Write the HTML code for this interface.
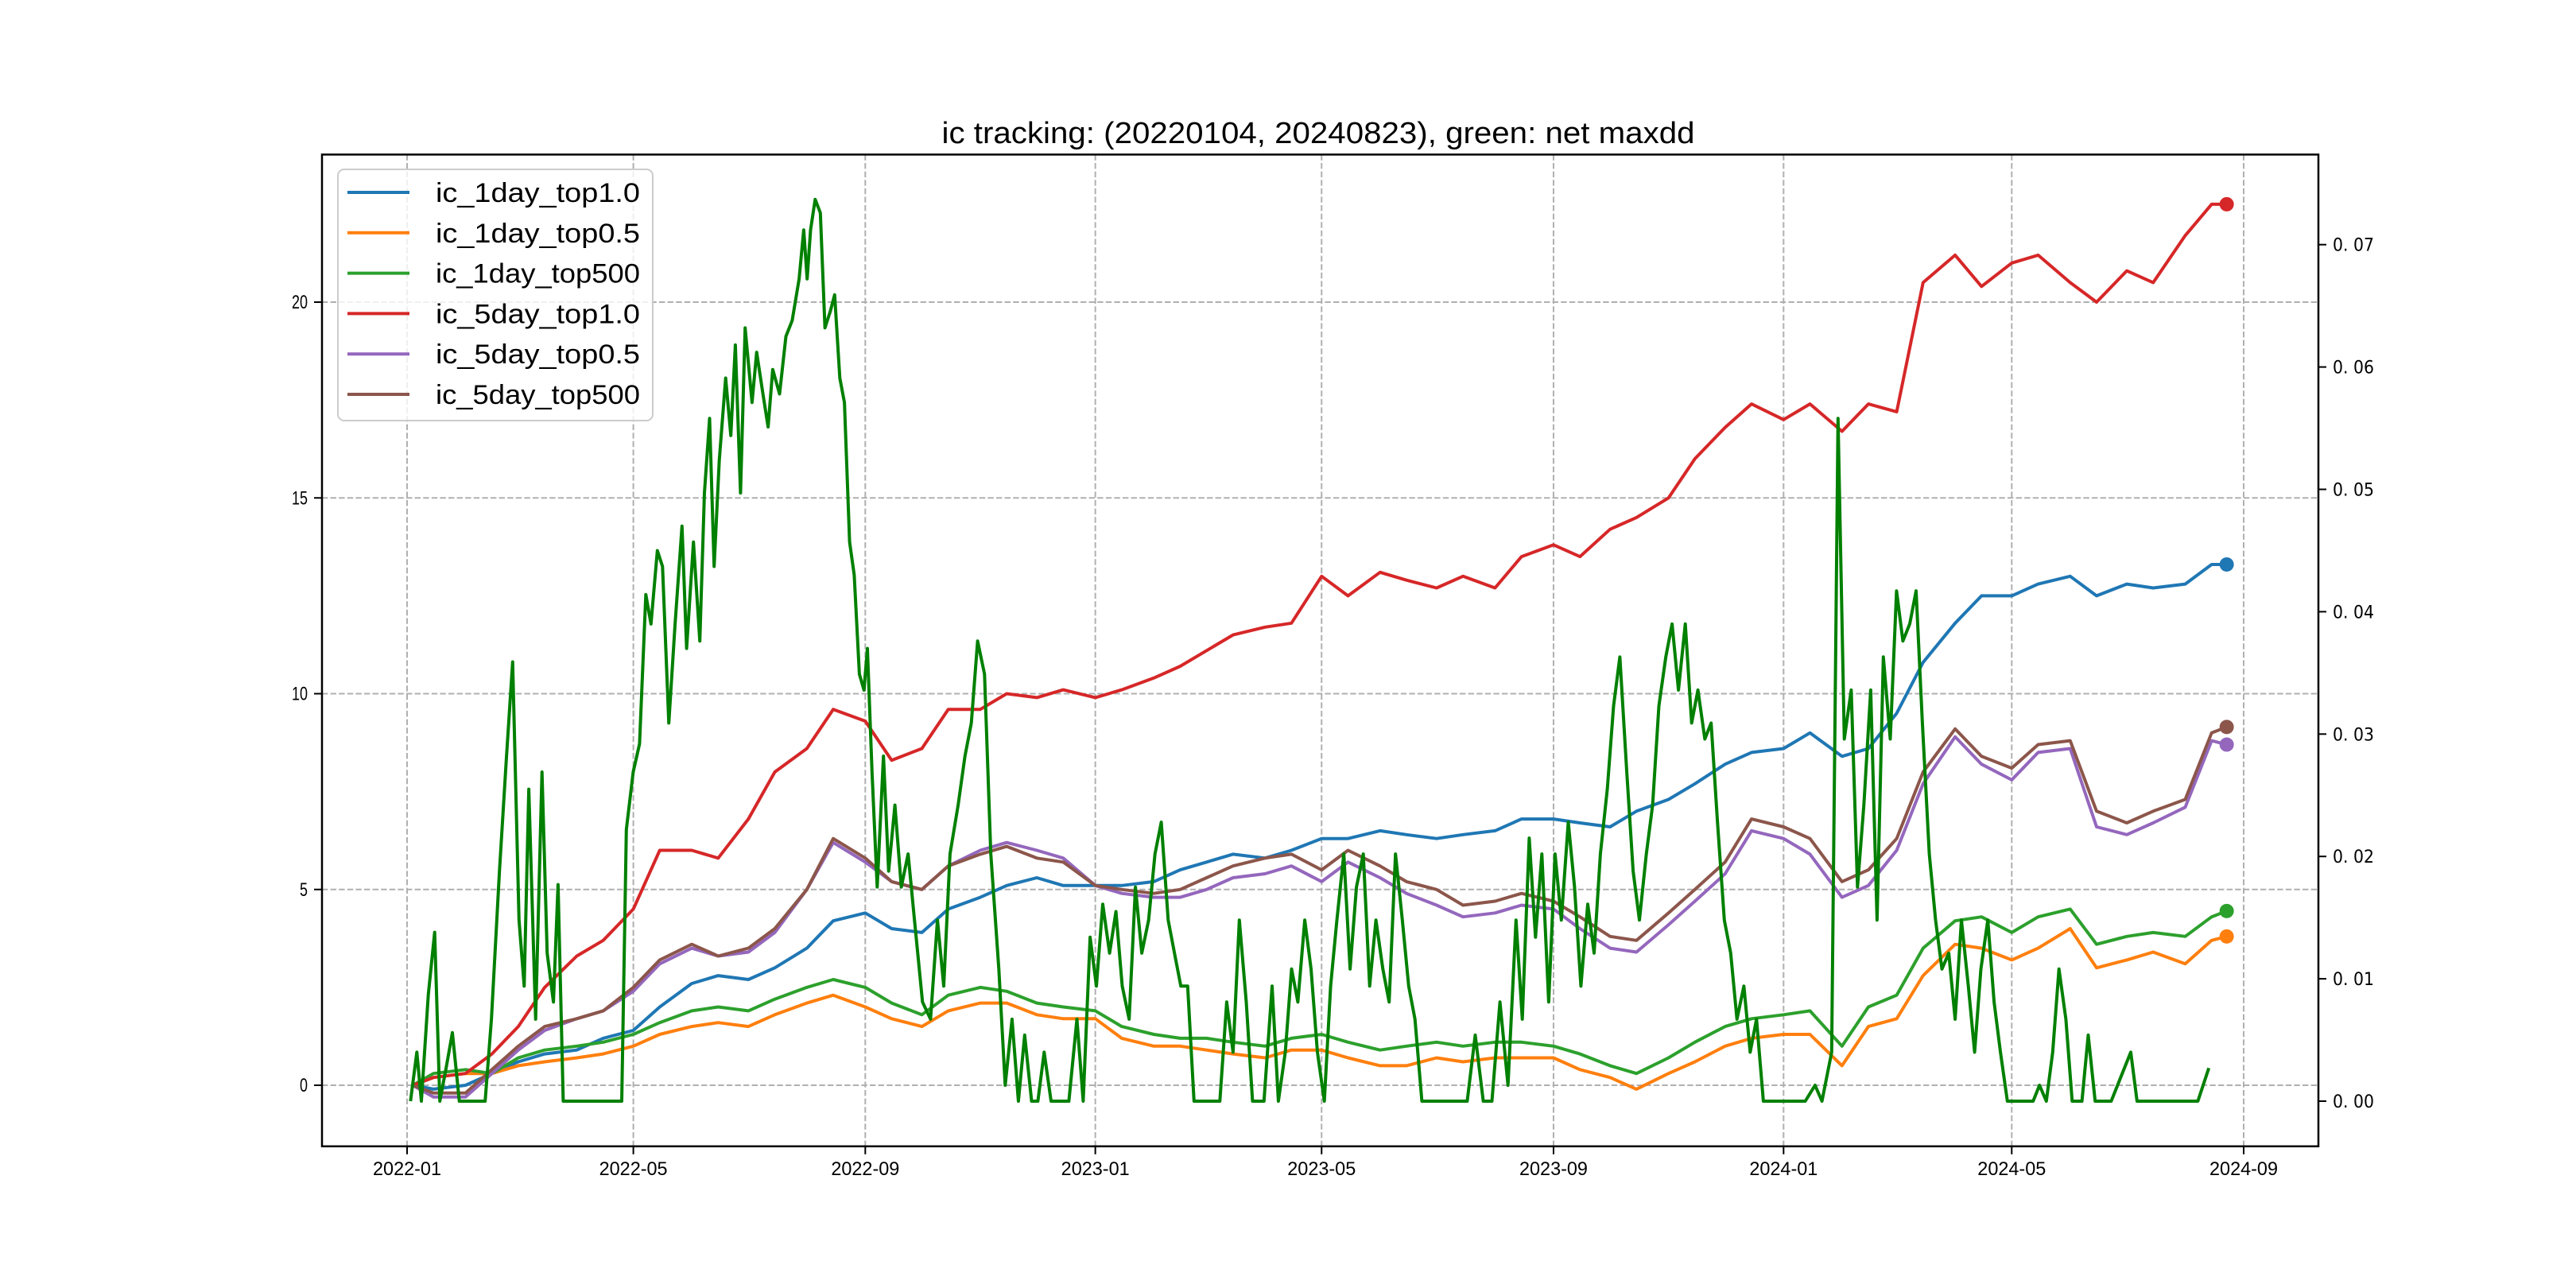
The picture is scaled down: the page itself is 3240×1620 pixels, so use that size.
<!DOCTYPE html>
<html><head><meta charset="utf-8"><title>ic tracking</title>
<style>html,body{margin:0;padding:0;background:#fff;}svg{display:block;}</style></head>
<body>
<svg id="chart" xmlns="http://www.w3.org/2000/svg" width="3240" height="1620" viewBox="0 0 3240 1620">
<rect x="0" y="0" width="3240" height="1620" fill="#fff"/>
<g id="grid"></g>
<g id="series"></g>
<g id="axes"></g>
<text x="1658" y="180" text-anchor="middle" font-family="Liberation Sans, sans-serif" font-size="38" textLength="947" lengthAdjust="spacingAndGlyphs">ic tracking: (20220104, 20240823), green: net maxdd</text>
<g id="legend"></g>
</svg>
<script>
const dates = ["2022-01-04","2022-01-15","2022-02-01","2022-02-15","2022-03-01","2022-03-15","2022-04-01","2022-04-15","2022-05-01","2022-05-15","2022-06-01","2022-06-15","2022-07-01","2022-07-15","2022-08-01","2022-08-15","2022-09-01","2022-09-15","2022-10-01","2022-10-15","2022-11-01","2022-11-15","2022-12-01","2022-12-15",
"2023-01-01","2023-01-15","2023-02-01","2023-02-15","2023-03-01","2023-03-15","2023-04-01","2023-04-15","2023-05-01","2023-05-15","2023-06-01","2023-06-15","2023-07-01","2023-07-15","2023-08-01","2023-08-15","2023-09-01","2023-09-15","2023-10-01","2023-10-15","2023-11-01","2023-11-15","2023-12-01","2023-12-15",
"2024-01-01","2024-01-15","2024-02-01","2024-02-15","2024-03-01","2024-03-15","2024-04-01","2024-04-15","2024-05-01","2024-05-15","2024-06-01","2024-06-15","2024-07-01","2024-07-15","2024-08-01","2024-08-15","2024-08-23"];
const ic1dTop10 = [0,-0.1,0,0.3,0.6,0.8,0.9,1.2, 1.4,2.0,2.6,2.8,2.7,3.0,3.5,4.2, 4.4,4.0,3.9,4.5,4.8,5.1,5.3,5.1, 5.1,5.1,5.2,5.5,5.7,5.9,5.8,6.0, 6.3,6.3,6.5,6.4,6.3,6.4,6.5,6.8, 6.8,6.7,6.6,7.0,7.3,7.7,8.2,8.5, 8.6,9.0,8.4,8.6,9.5,10.8,11.8,12.5, 12.5,12.8,13.0,12.5,12.8,12.7,12.8,13.3, 13.3];
const ic1dTop05 = [0,0.2,0.3,0.3,0.5,0.6,0.7,0.8, 1.0,1.3,1.5,1.6,1.5,1.8,2.1,2.3, 2.0,1.7,1.5,1.9,2.1,2.1,1.8,1.7, 1.7,1.2,1.0,1.0,0.9,0.8,0.7,0.9, 0.9,0.7,0.5,0.5,0.7,0.6,0.7,0.7, 0.7,0.4,0.2,-0.1,0.3,0.6,1.0,1.2, 1.3,1.3,0.5,1.5,1.7,2.8,3.6,3.5, 3.2,3.5,4.0,3.0,3.2,3.4,3.1,3.7, 3.8];
const ic1dTop500 = [0,0.3,0.4,0.3,0.7,0.9,1.0,1.1, 1.3,1.6,1.9,2.0,1.9,2.2,2.5,2.7, 2.5,2.1,1.8,2.3,2.5,2.4,2.1,2.0, 1.9,1.5,1.3,1.2,1.2,1.1,1.0,1.2, 1.3,1.1,0.9,1.0,1.1,1.0,1.1,1.1, 1.0,0.8,0.5,0.3,0.7,1.1,1.5,1.7, 1.8,1.9,1.0,2.0,2.3,3.5,4.2,4.3, 3.9,4.3,4.5,3.6,3.8,3.9,3.8,4.3, 4.45];
const ic5dTop10 = [0,0.2,0.3,0.8,1.5,2.5,3.3,3.7, 4.5,6.0,6.0,5.8,6.8,8.0,8.6,9.6, 9.3,8.3,8.6,9.6,9.6,10.0,9.9,10.1, 9.9,10.1,10.4,10.7,11.1,11.5,11.7,11.8, 13.0,12.5,13.1,12.9,12.7,13.0,12.7,13.5, 13.8,13.5,14.2,14.5,15.0,16.0,16.8,17.4, 17.0,17.4,16.7,17.4,17.2,20.5,21.2,20.4, 21.0,21.2,20.5,20.0,20.8,20.5,21.7,22.5, 22.5];
const ic5dTop05 = [0,-0.3,-0.3,0.3,0.9,1.4,1.7,1.9, 2.4,3.1,3.5,3.3,3.4,3.9,5.0,6.2, 5.7,5.2,5.0,5.6,6.0,6.2,6.0,5.8, 5.1,4.9,4.8,4.8,5.0,5.3,5.4,5.6, 5.2,5.7,5.3,4.9,4.6,4.3,4.4,4.6, 4.5,4.0,3.5,3.4,4.1,4.7,5.4,6.5, 6.3,5.9,4.8,5.1,6.0,7.7,8.9,8.2, 7.8,8.5,8.6,6.6,6.4,6.7,7.1,8.8, 8.7];
const ic5dTop500 = [0,-0.2,-0.2,0.4,1.0,1.5,1.7,1.9, 2.5,3.2,3.6,3.3,3.5,4.0,5.0,6.3, 5.8,5.2,5.0,5.6,5.9,6.1,5.8,5.7, 5.1,5.0,4.9,5.0,5.3,5.6,5.8,5.9, 5.5,6.0,5.6,5.2,5.0,4.6,4.7,4.9, 4.7,4.3,3.8,3.7,4.4,5.0,5.7,6.8, 6.6,6.3,5.2,5.5,6.3,8.0,9.1,8.4, 8.1,8.7,8.8,7.0,6.7,7.0,7.3,9.0, 9.15];
// net maxdd (right axis): time in months since 2022-01-01
const ddMonths = [0.06,0.17,0.25,0.37,0.48,0.57,0.68,0.79,0.91,1.19,1.36,1.47,1.61,1.73,1.84,1.95,2.04,2.12,2.24,2.35,2.44,2.55,2.63,2.72,2.95,3.46,3.74,3.82,3.94,4.05,4.16,4.25,4.36,4.45,4.56,4.67,4.79,4.87,4.99,5.10,5.18,5.27,5.35,5.44,5.55,5.64,5.72,5.81,5.89,6.01,6.09,6.20,6.29,6.37,6.49,6.60,6.71,6.83,6.91,6.97,7.03,7.11,7.20,7.28,7.37,7.45,7.54,7.62,7.71,7.79,7.88,7.96,8.02,8.10,8.19,8.30,8.39,8.50,8.61,8.73,8.84,8.98,9.12,9.24,9.35,9.46,9.60,9.72,9.83,9.94,10.06,10.17,10.31,10.42,10.54,10.65,10.76,10.88,10.99,11.10,11.22,11.33,11.53,11.67,11.78,11.90,12.01,12.12,12.24,12.35,12.46,12.58,12.69,12.80,12.92,13.03,13.14,13.26,13.37,13.48,13.60,13.71,13.94,14.16,14.28,14.39,14.50,14.62,14.73,14.93,15.07,15.18,15.30,15.41,15.52,15.64,15.75,15.86,15.98,16.09,16.20,16.32,16.43,16.54,16.66,16.77,16.88,17.00,17.11,17.22,17.34,17.45,17.56,17.68,17.90,18.19,18.47,18.61,18.75,18.90,19.04,19.18,19.32,19.43,19.55,19.66,19.77,19.89,20.00,20.11,20.23,20.34,20.45,20.57,20.68,20.79,20.91,21.02,21.13,21.25,21.36,21.47,21.59,21.70,21.81,21.93,22.04,22.15,22.27,22.38,22.49,22.61,22.72,22.83,22.95,23.06,23.17,23.29,23.40,23.51,23.63,23.85,24.14,24.36,24.53,24.65,24.82,24.93,25.04,25.16,25.27,25.38,25.50,25.61,25.72,25.84,25.95,26.06,26.18,26.29,26.40,26.52,26.63,26.74,26.86,26.97,27.08,27.20,27.31,27.42,27.54,27.65,27.76,27.88,28.10,28.33,28.44,28.56,28.67,28.78,28.90,29.01,29.18,29.29,29.41,29.69,30.03,30.14,30.50,30.90,31.20,31.39];
const ddValues = [0,0.004,0,0.0087,0.0138,0,0.0027,0.0056,0,0,0,0.0067,0.0188,0.028,0.0359,0.0148,0.0094,0.0255,0.0067,0.0269,0.0121,0.0081,0.0177,0,0,0,0,0.0222,0.0269,0.0292,0.0414,0.039,0.045,0.0437,0.0309,0.039,0.047,0.037,0.0457,0.0376,0.0497,0.0558,0.0437,0.0524,0.0591,0.0544,0.0618,0.0497,0.0632,0.0571,0.0612,0.0578,0.0551,0.0598,0.0578,0.0625,0.0638,0.0672,0.0712,0.0672,0.0712,0.0737,0.0726,0.0632,0.0645,0.0659,0.0591,0.0571,0.0457,0.043,0.0349,0.0336,0.037,0.0269,0.0175,0.0282,0.0188,0.0242,0.0175,0.0202,0.0148,0.0081,0.0067,0.0148,0.0094,0.0202,0.0242,0.0282,0.0309,0.0376,0.0349,0.0202,0.0108,0.0013,0.0067,0,0.0054,0,0,0.004,0,0,0,0.0067,0,0.0134,0.0094,0.0161,0.0121,0.0155,0.0094,0.0067,0.0175,0.0121,0.0148,0.0202,0.0228,0.0148,0.0121,0.0094,0.0094,0,0,0,0.0081,0.004,0.0148,0.0081,0,0,0.0094,0,0.004,0.0108,0.0081,0.0148,0.0108,0.004,0,0.0094,0.0148,0.0202,0.0108,0.0175,0.0202,0.0094,0.0148,0.0108,0.0081,0.0202,0.0148,0.0094,0.0067,0,0,0,0,0.0054,0,0,0.0081,0.0013,0.0148,0.0067,0.0215,0.0134,0.0202,0.0081,0.0202,0.0148,0.0228,0.0175,0.0094,0.0161,0.0121,0.0202,0.0255,0.0323,0.0363,0.0269,0.0188,0.0148,0.0202,0.0242,0.0323,0.0363,0.039,0.0336,0.039,0.0309,0.0336,0.0296,0.0309,0.0228,0.0148,0.0121,0.0067,0.0094,0.004,0.0067,0,0,0,0,0.0013,0,0.004,0.0558,0.0296,0.0336,0.0175,0.0242,0.0336,0.0148,0.0363,0.0296,0.0417,0.0376,0.039,0.0417,0.0309,0.0202,0.0148,0.0108,0.0121,0.0067,0.0148,0.0094,0.004,0.0108,0.0148,0.0081,0.004,0,0,0,0.0013,0,0.004,0.0108,0.0067,0,0,0.0054,0,0,0.004,0,0,0,0,0.0027];
const xTickLabels = ["2022-01","2022-05","2022-09","2023-01","2023-05","2023-09","2024-01","2024-05","2024-09"];
const yLeftTicks = [0,5,10,15,20];
const yRightTicks = [0.00,0.01,0.02,0.03,0.04,0.05,0.06,0.07];
const seriesNames = ["ic_1day_top1.0","ic_1day_top0.5","ic_1day_top500","ic_5day_top1.0","ic_5day_top0.5","ic_5day_top500"];

const NS = "http://www.w3.org/2000/svg";
const L = 405, R = 2916, T = 194.4, B = 1441.8;
const t0 = Date.UTC(2022,0,1), t1 = Date.UTC(2024,8,1);
const X0 = 512, X1 = 2822;
function dayOf(s){const p=s.split("-");return (Date.UTC(+p[0],+p[1]-1,+p[2])-t0)/864e5;}
const totalDays = (t1-t0)/864e5;
function xDay(d){return X0+(X1-X0)*d/totalDays;}
function xDate(s){return xDay(dayOf(s));}
function yL(v){return 1365 - v*49.25;}
function yR(v){return 1385 - v*15390;}
function mk(tag, attrs, parent){const e=document.createElementNS(NS,tag);for(const k in attrs)e.setAttribute(k,attrs[k]);parent.appendChild(e);return e;}

const grid=document.getElementById("grid"), ser=document.getElementById("series"), axes=document.getElementById("axes"), leg=document.getElementById("legend");
// vertical grid + x ticks
xTickLabels.forEach(lbl=>{
  const x = xDate(lbl+"-01");
  const g = mk("line",{x1:x,x2:x,y1:T,y2:B,stroke:"#b0b0b0","stroke-width":2,"stroke-dasharray":"7.4,3.2"},grid);
  
  
  const tk = mk("line",{x1:x,x2:x,y1:B,y2:B+10,stroke:"#000","stroke-width":2},axes);
  
  
  const t = mk("text",{x:x,y:B+36,"text-anchor":"middle","font-family":"Liberation Sans, sans-serif","font-size":24,textLength:86,lengthAdjust:"spacingAndGlyphs"},axes);
  t.textContent = lbl;
  
  
});
yLeftTicks.forEach(v=>{
  const y=yL(v);
  const g=mk("line",{x1:L,x2:R,y1:y,y2:y,stroke:"#b0b0b0","stroke-width":2,"stroke-dasharray":"7.4,3.2"},grid);
  
  
  const tk=mk("line",{x1:L-10,x2:L,y1:y,y2:y,stroke:"#000","stroke-width":2},axes);
  
  
  const t=mk("text",{x:L-18,y:y+8,"text-anchor":"end","font-family":"Liberation Sans, sans-serif","font-size":24},axes);
  t.textContent=String(v);
  if(String(v).length===2){t.setAttribute("textLength","20");t.setAttribute("lengthAdjust","spacingAndGlyphs");}
  else {t.setAttribute("textLength","10");t.setAttribute("lengthAdjust","spacingAndGlyphs");}
  
  
});
yRightTicks.forEach(v=>{
  const y=yR(v);
  const tk=mk("line",{x1:R,x2:R+10,y1:y,y2:y,stroke:"#000","stroke-width":2},axes);
  
  
  const t=mk("text",{x:R+18,y:y+8,"font-family":"DejaVu Sans, sans-serif","font-size":22,textLength:52,lengthAdjust:"spacingAndGlyphs"},axes);
  t.textContent=v.toFixed(2).replace(".",". ");
  
  
});
const frame=mk("rect",{x:L,y:T,width:R-L,height:B-T,fill:"none",stroke:"#000","stroke-width":2.5},axes);



const colors=["#1f77b4","#ff7f0e","#2ca02c","#d62728","#9467bd","#8c564b"];
const allSeries=[ic1dTop10,ic1dTop05,ic1dTop500,ic5dTop10,ic5dTop05,ic5dTop500];
allSeries.forEach((vals,k)=>{
  const pts=vals.map((v,i)=>xDate(dates[i]).toFixed(1)+","+yL(v).toFixed(1)).join(" ");
  const pl=mk("polyline",{points:pts,fill:"none",stroke:colors[k],"stroke-width":4,"stroke-linejoin":"round"},ser);
  
  
});
allSeries.forEach((vals,k)=>{
  const n=vals.length-1;
  const c=mk("circle",{cx:xDate(dates[n]),cy:yL(vals[n]),r:9,fill:colors[k]},ser);
  
  
});
const ddPts=ddMonths.map((m,i)=>xDay(m*30.44).toFixed(1)+","+yR(ddValues[i]).toFixed(1)).join(" ");
const dd=mk("polyline",{points:ddPts,fill:"none",stroke:"#008000","stroke-width":4,"stroke-linejoin":"round"},ser);



// legend
const box=mk("rect",{x:425,y:213,width:396,height:316,rx:8,fill:"#fff","fill-opacity":0.8,stroke:"#cccccc","stroke-width":2},leg);


seriesNames.forEach((nm,k)=>{
  const y=242+k*50.8;
  const ln=mk("line",{x1:437,x2:515,y1:y,y2:y,stroke:colors[k],"stroke-width":4},leg);
  
  
  const t=mk("text",{x:548,y:y+12,"font-family":"Liberation Sans, sans-serif","font-size":34,textLength:257,lengthAdjust:"spacingAndGlyphs"},leg);
  t.textContent=nm;
  
  
});
</script>
</body></html>
